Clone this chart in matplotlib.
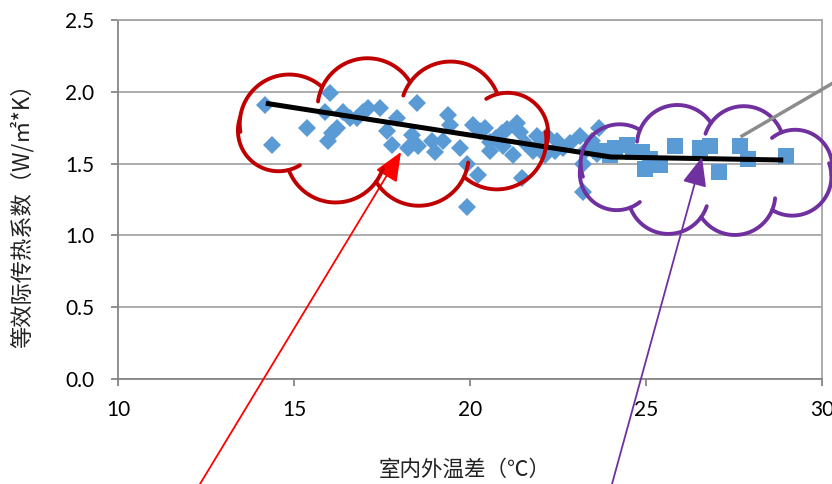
import numpy as np
import matplotlib
matplotlib.use('Agg')
import matplotlib.pyplot as plt
from matplotlib.lines import Line2D

# diamonds: 室内外温差 vs 等效传热系数 (low delta-T group)
temp_a = [14.18, 14.38, 15.37, 16.02, 15.88, 16.08, 15.97, 16.22, 16.39, 16.59,
          16.79, 16.96, 17.10, 17.44, 17.64, 17.78, 17.93, 18.24, 18.35, 18.49,
          18.52, 18.92, 19.01, 19.23, 19.38, 19.43, 19.72, 19.91, 19.91, 20.09,
          20.28, 20.43, 20.57, 20.57, 20.23, 20.91, 20.94, 21.22, 21.34, 21.42,
          21.56, 21.48, 21.79, 21.90, 22.13, 22.19, 22.41, 22.47, 22.64, 22.84,
          23.13, 23.27, 23.21, 23.21, 23.47, 23.61, 23.66, 20.75, 21.05, 22.00]
coef_a = [1.91, 1.63, 1.75, 1.99, 1.86, 1.71, 1.66, 1.75, 1.86, 1.82,
          1.82, 1.86, 1.89, 1.89, 1.73, 1.63, 1.82, 1.61, 1.70, 1.92,
          1.62, 1.66, 1.58, 1.66, 1.84, 1.77, 1.61, 1.50, 1.20, 1.77,
          1.73, 1.75, 1.65, 1.59, 1.42, 1.71, 1.62, 1.56, 1.78, 1.72,
          1.64, 1.40, 1.59, 1.69, 1.56, 1.69, 1.59, 1.66, 1.61, 1.64,
          1.69, 1.59, 1.50, 1.30, 1.66, 1.57, 1.75, 1.68, 1.74, 1.63]

# squares: high delta-T group
temp_b = [23.69, 23.98, 24.12, 24.46, 24.63, 24.89, 24.97, 25.11, 25.40, 25.82,
          26.53, 26.82, 27.07, 27.67, 27.90, 28.98]
coef_b = [1.59, 1.56, 1.61, 1.63, 1.58, 1.58, 1.46, 1.53, 1.49, 1.62,
          1.61, 1.62, 1.44, 1.62, 1.53, 1.55]

# fitted trend (two segments)
fit_x = [14.2, 24.0, 28.9]
fit_y = [1.92, 1.546, 1.525]

x_ticks = [10, 15, 20, 25, 30]
y_ticks = [0.0, 0.5, 1.0, 1.5, 2.0, 2.5]

W, H = 832, 484
fig = plt.figure(figsize=(W / 100, H / 100), dpi=100)
ax = fig.add_axes([118 / W, 1 - 379 / H, (822 - 118) / W, (379 - 20) / H])

ax.plot(temp_a, coef_a, 'D', ms=9, color='#5B9BD5', mew=0, zorder=3)
ax.plot(temp_b, coef_b, 's', ms=12, color='#5B9BD5', mew=0, zorder=3)
ax.plot(fit_x, fit_y, '-', color='black', lw=3.6, zorder=4, solid_capstyle='butt')

ax.set_xlim(10, 30)
ax.set_ylim(0, 2.5)
ax.set_xticks(x_ticks)
ax.set_yticks(y_ticks)
ax.set_yticklabels(['%.1f' % v for v in y_ticks])
ax.grid(axis='y', color='#A6A6A6', lw=1.3)
ax.set_axisbelow(True)
for s in ax.spines.values():
    s.set_color('#A6A6A6')
    s.set_linewidth(1.3)
ax.spines['left'].set_color('#868686')
ax.spines['bottom'].set_color('#868686')
ax.tick_params(axis='both', colors='#868686', length=5, width=1.3,
               labelcolor='black', labelsize=15)
ax.tick_params(axis='x', pad=10)
ax.tick_params(axis='y', pad=12)
for lab in ax.get_xticklabels() + ax.get_yticklabels():
    lab.set_family('Lato')

cjk = ['Noto Sans CJK SC', 'DejaVu Sans']
fig.text(465 / W, 1 - 470 / H, '室内外温差（℃）', ha='center', va='center',
         fontsize=15.5, family=cjk, fontweight='light', color='#222222')
fig.text(22 / W, 1 - 210 / H, '等效际传热系数（W/㎡*K）', ha='center', va='center',
         rotation=90, fontsize=16, family=cjk, fontweight='light', color='#222222')


# decorations drawn in image pixel coordinates (y down)
def to_fig(px, py):
    return np.asarray(px) / W, 1 - np.asarray(py) / H


def cloud(cx, cy, rx, ry, n, color, start, bulge=0.3):
    # junction points spaced evenly by arc length on an ellipse
    t = np.linspace(0, 2 * np.pi, 2000) + start
    ex, ey = cx + rx * np.cos(t), cy + ry * np.sin(t)
    seg = np.r_[0, np.cumsum(np.hypot(np.diff(ex), np.diff(ey)))]
    idx = [np.searchsorted(seg, v) for v in np.linspace(0, seg[-1], n + 1)]
    idx[-1] = 0
    pts = np.c_[ex[idx], ey[idx]]
    for i in range(n):
        p, q = pts[i], pts[i + 1]
        c = np.hypot(*(q - p))
        sag = bulge * c
        R = (c * c / 4 + sag * sag) / (2 * sag)
        m = (p + q) / 2
        nrm = np.array([(q - p)[1], -(q - p)[0]]) / c
        if np.dot(nrm, m - [cx, cy]) < 0:
            nrm = -nrm
        ctr = m - nrm * (R - sag)
        a0 = np.arctan2(p[1] - ctr[1], p[0] - ctr[0])
        a1 = np.arctan2(q[1] - ctr[1], q[0] - ctr[0])
        d = (a1 - a0) % (2 * np.pi)
        amid = a0 + d / 2
        test = ctr + R * np.array([np.cos(amid), np.sin(amid)])
        if np.dot(test - m, nrm) < 0:
            d = d - 2 * np.pi
        ext = 0.3 * np.sign(d)
        a = np.linspace(a0 - ext, a0 + d, 80)
        fx, fy = to_fig(ctr[0] + R * np.cos(a), ctr[1] + R * np.sin(a))
        fig.add_artist(Line2D(fx, fy, color=color, lw=2.8, zorder=5,
                              solid_capstyle='round'))


cloud(393, 132, 160, 50, 8, '#C00000', 0.3)
cloud(706, 170, 126, 47, 8, '#7030A0', 0.1)

gx, gy = to_fig([742, 845], [136, 76])
fig.add_artist(Line2D(gx, gy, color='#8C8C8C', lw=2.5, zorder=5))

for tail, tip, col in [((200, 484), (401, 152), '#FF0000'),
                       ((612, 484), (702, 157), '#7030A0')]:
    ax.annotate('', xy=(tip[0], H - tip[1]), xycoords='figure pixels',
                xytext=(tail[0], H - tail[1]), textcoords='figure pixels',
                arrowprops=dict(arrowstyle='-|>,head_length=0.9,head_width=0.38',
                                mutation_scale=20, color=col, lw=1.3,
                                shrinkA=0, shrinkB=0),
                annotation_clip=False, zorder=6)

fig.savefig('out.png', dpi=100)
